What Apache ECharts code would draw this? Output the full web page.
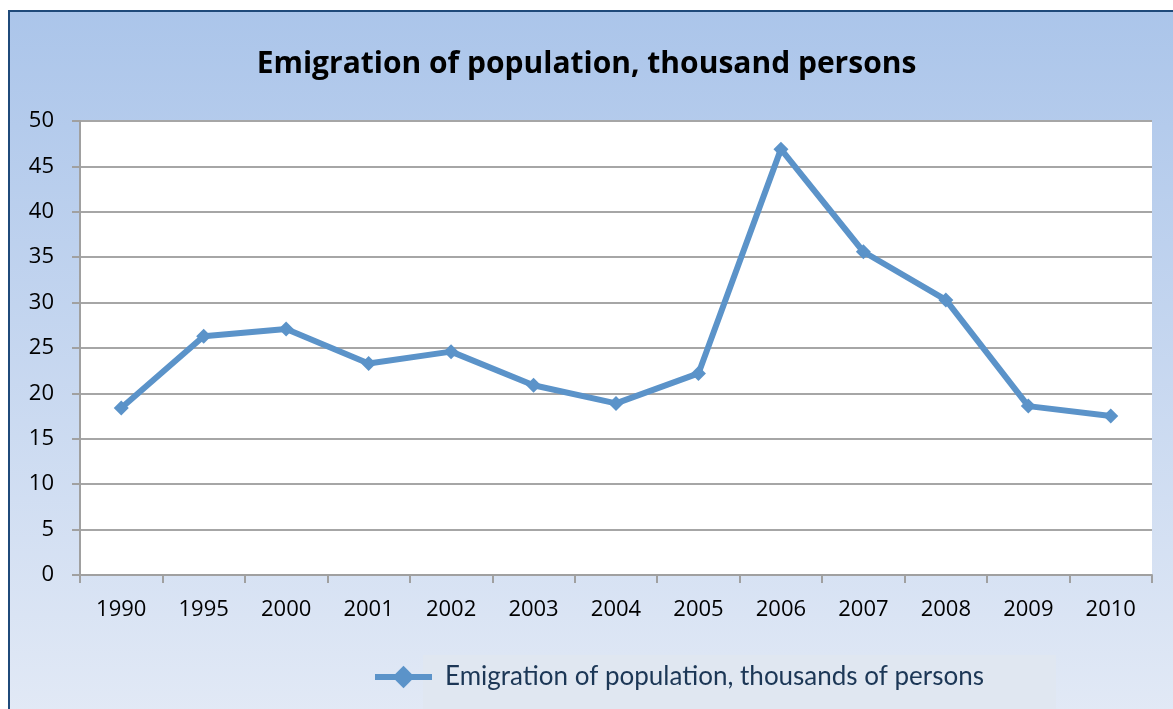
<!DOCTYPE html>
<html>
<head>
<meta charset="utf-8">
<script src="https://cdn.jsdelivr.net/npm/echarts@6/dist/echarts.min.js"></script>
<style>
  html, body { margin: 0; padding: 0; background: #ffffff; }
  #chart { width: 1173px; height: 709px; }
</style>
</head>
<body>
<div id="chart"></div>
<script>
// Emigration figures by year, thousand persons
const years = ['1990', '1995', '2000', '2001', '2002', '2003', '2004', '2005', '2006', '2007', '2008', '2009', '2010'];
const emigration = [18.4, 26.3, 27.1, 23.3, 24.6, 20.9, 18.9, 22.2, 46.9, 35.6, 30.3, 18.6, 17.5];
const titleText = 'Emigration of population, thousand persons';
const seriesName = 'Emigration of population, thousands of persons';

const chart = echarts.init(document.getElementById('chart'), null, { renderer: 'canvas' });
const lineColor = '#5b93c9';

chart.setOption({
  animation: false,
  graphic: [
    {
      type: 'rect',
      z: -10,
      shape: { x: 9, y: 11, width: 1180, height: 720 },
      style: {
        fill: new echarts.graphic.LinearGradient(0, 0, 0, 1, [
          { offset: 0, color: '#abc5ea' },
          { offset: 1, color: '#e3eaf6' }
        ]),
        stroke: '#1f4a7a',
        lineWidth: 2
      }
    },
    {
      type: 'rect',
      z: -9,
      shape: { x: 423, y: 655, width: 633, height: 60 },
      style: { fill: '#e0e7f1' }
    }
  ],
  title: {
    text: titleText,
    left: 'center',
    top: 44,
    textStyle: {
      fontFamily: 'Open Sans',
      fontWeight: 'bold',
      fontSize: 30,
      color: '#000000'
    }
  },
  legend: {
    data: [seriesName],
    left: 367,
    top: 659,
    itemWidth: 57,
    itemHeight: 28,
    itemGap: 10,
    lineStyle: { width: 6, color: lineColor },
    itemStyle: { color: lineColor },
    textStyle: {
      fontFamily: 'Lato',
      fontSize: 26,
      color: '#1c3756',
      padding: [0, 0, 0, 8]
    }
  },
  grid: {
    left: 80,
    right: 21,
    top: 121,
    bottom: 134,
    show: true,
    backgroundColor: '#ffffff',
    borderWidth: 0
  },
  xAxis: {
    type: 'category',
    data: years,
    boundaryGap: true,
    axisLine: { show: true, lineStyle: { color: '#a0a0a0', width: 2 } },
    axisTick: { show: true, length: 8, lineStyle: { color: '#a0a0a0', width: 2 } },
    axisLabel: {
      fontFamily: 'Open Sans',
      fontSize: 22,
      color: '#000000',
      margin: 24
    }
  },
  yAxis: {
    type: 'value',
    min: 0,
    max: 50,
    interval: 5,
    axisLine: { show: true, lineStyle: { color: '#a0a0a0', width: 2 } },
    axisTick: { show: true, length: 8, lineStyle: { color: '#a0a0a0', width: 2 } },
    splitLine: { show: true, lineStyle: { color: '#a6a6a6', width: 2 } },
    axisLabel: {
      fontFamily: 'Open Sans',
      fontSize: 22,
      color: '#000000',
      margin: 26
    }
  },
  series: [
    {
      name: seriesName,
      type: 'line',
      data: emigration,
      symbol: 'diamond',
      symbolSize: 15,
      lineStyle: { color: lineColor, width: 6 },
      itemStyle: { color: lineColor },
      emphasis: { disabled: true }
    }
  ]
});
</script>
</body>
</html>
